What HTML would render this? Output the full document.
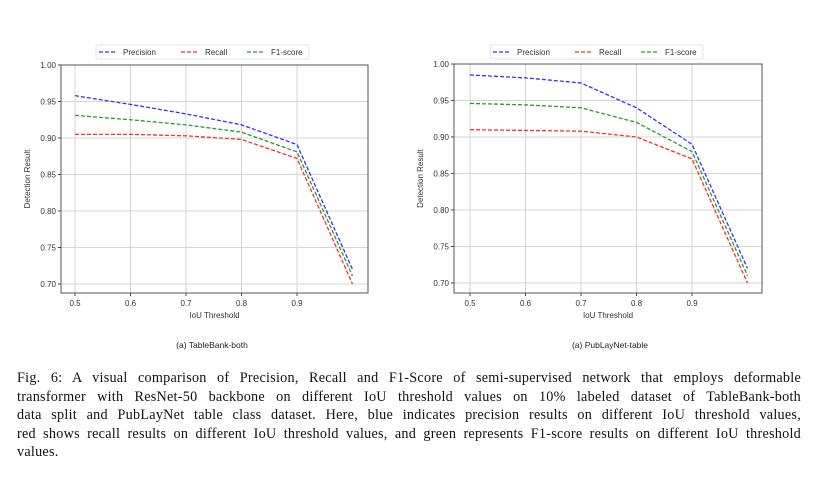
<!DOCTYPE html>
<html><head><meta charset="utf-8">
<style>
body{margin:0;background:#fff;width:831px;height:488px;overflow:hidden;position:relative;font-family:"Liberation Sans",sans-serif}
svg{position:absolute;left:0;top:0}
.cap{position:absolute;left:17px;width:784px;font-family:"Liberation Serif",serif;font-size:14.2px;letter-spacing:0.25px;color:#111;line-height:18.6px;top:369px}
.cap div{text-align:justify;text-align-last:justify;white-space:nowrap;height:18.6px}
.cap div.last{text-align-last:left}
</style></head><body>
<svg id="s" width="831" height="488"></svg>
<div class="cap">
<div>Fig. 6: A visual comparison of Precision, Recall and F1-Score of semi-supervised network that employs deformable</div>
<div>transformer with ResNet-50 backbone on different IoU threshold values on 10% labeled dataset of TableBank-both</div>
<div>data split and PubLayNet table class dataset. Here, blue indicates precision results on different IoU threshold values,</div>
<div>red shows recall results on different IoU threshold values, and green represents F1-score results on different IoU threshold</div>
<div class="last">values.</div>
</div>
<script>
const xVals=[0.5,0.6,0.7,0.8,0.9,1.0];
const xTicks=["0.5","0.6","0.7","0.8","0.9"];
const yTicks=["0.70","0.75","0.80","0.85","0.90","0.95","1.00"];
const aPrecision=[0.958,0.946,0.933,0.918,0.891,0.72];
const aRecall=[0.905,0.905,0.903,0.898,0.872,0.70];
const aF1=[0.931,0.925,0.918,0.908,0.881,0.711];
const bPrecision=[0.985,0.981,0.974,0.94,0.89,0.72];
const bRecall=[0.91,0.909,0.908,0.90,0.87,0.70];
const bF1=[0.946,0.944,0.94,0.92,0.88,0.71];
const NS="http://www.w3.org/2000/svg";
const svg=document.getElementById('s');
function el(t,a,p){const e=document.createElementNS(NS,t);for(const k in a)e.setAttribute(k,a[k]);(p||svg).appendChild(e);return e;}
function chart(cfg){
  const g=el('g',{});
  
  
  const X=v=>cfg.x05+(v-0.5)/0.1*cfg.dx;
  const Y=v=>cfg.y100+(1-v)/0.05*cfg.dy;
  xTicks.forEach(t=>{const x=X(+t);
    const l=el('line',{x1:x,x2:x,y1:cfg.top,y2:cfg.bot,stroke:'#d4d4d4','stroke-width':1},g);
    
    el('line',{x1:x,x2:x,y1:cfg.bot,y2:cfg.bot+3,stroke:'#444'},g);
    const tx=el('text',{x:x,y:cfg.bot+13,'font-size':8,'text-anchor':'middle',fill:'#333'},g);tx.textContent=t;
    });
  yTicks.forEach(t=>{const y=Y(+t);
    const l=el('line',{x1:cfg.left,x2:cfg.right,y1:y,y2:y,stroke:'#d4d4d4','stroke-width':1},g);
    
    el('line',{x1:cfg.left-3,x2:cfg.left,y1:y,y2:y,stroke:'#444'},g);
    const tx=el('text',{x:cfg.left-5,y:y+3,'font-size':8,'text-anchor':'end',fill:'#333'},g);tx.textContent=t;
    });
  const fr=el('rect',{x:cfg.left,y:cfg.top,width:cfg.right-cfg.left,height:cfg.bot-cfg.top,fill:'none',stroke:'#555','stroke-width':1},g);
  
  [[cfg.p,'#3333ee','precision-line'],[cfg.f,'#2a9a2a','f1-line'],[cfg.r,'#ee3333','recall-line']].forEach(([d,c,n])=>{
    const pl=el('polyline',{points:d.map((v,i)=>X(xVals[i])+','+Y(v)).join(' '),fill:'none',stroke:c,'stroke-width':1.3,'stroke-dasharray':'4,2'},g);
    });
  const xl=el('text',{x:(cfg.left+cfg.right)/2,y:cfg.bot+25,'font-size':8,'text-anchor':'middle',fill:'#333'},g);xl.textContent='IoU Threshold';
  
  const yx=cfg.left-31,yy=(cfg.top+cfg.bot)/2;
  const yl=el('text',{x:yx,y:yy,'font-size':8,'text-anchor':'middle',fill:'#333',transform:`rotate(-90 ${yx} ${yy})`},g);yl.textContent='Detection Result';
  
  const lg=el('g',{},g);
  el('rect',{x:cfg.lx,y:45,width:213,height:14,fill:'#fff',stroke:'#ddd','stroke-width':0.8,rx:2},lg);
  [['Precision','#3333ee',0],['Recall','#ee3333',82],['F1-score','#2a9a2a',148]].forEach(([t,c,o])=>{
    el('line',{x1:cfg.lx+3+o,x2:cfg.lx+21+o,y1:52,y2:52,stroke:c,'stroke-width':1.3,'stroke-dasharray':'4,2'},lg);
    const tx=el('text',{x:cfg.lx+27+o,y:55,'font-size':8,fill:'#333'},lg);tx.textContent=t;
    });
  const st=el('text',{x:cfg.capx,y:348,'font-size':8.5,'text-anchor':'middle',fill:'#222'},g);st.textContent=cfg.cap;
  
}
chart({name:'chart-tablebank',left:61,right:368,top:65,bot:293,x05:75,dx:55.5,y100:65,dy:36.5,p:aPrecision,r:aRecall,f:aF1,lx:96,capx:212,cap:'(a) TableBank-both'});
chart({name:'chart-publaynet',left:454,right:762,top:64,bot:293,x05:470,dx:55.5,y100:64,dy:36.5,p:bPrecision,r:bRecall,f:bF1,lx:490,capx:610,cap:'(a) PubLayNet-table'});
</script>
</body></html>
